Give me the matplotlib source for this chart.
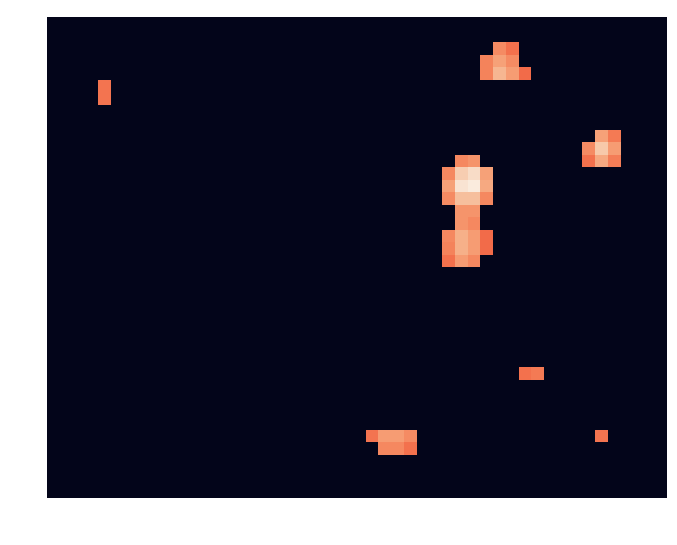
import numpy as np
import matplotlib
matplotlib.use('Agg')
import matplotlib.pyplot as plt
import seaborn as sns

# grid size of the 2d histogram (rows x cols), last row/col are cut off
n_rows = 39
n_cols = 49

# non-empty bins: row index, column index, normalised level
cell_rows = [5, 6,
             2, 2, 3, 3, 3, 4, 4, 4, 4,
             9, 9, 10, 10, 10, 11, 11, 11,
             11, 11, 12, 12, 12, 12, 13, 13, 13, 13, 14, 14, 14, 14,
             15, 15, 16, 16, 17, 17, 17, 17, 18, 18, 18, 18, 19, 19, 19,
             28, 28, 33,
             33, 33, 33, 33, 34, 34, 34]
cell_cols = [4, 4,
             35, 36, 34, 35, 36, 34, 35, 36, 37,
             43, 44, 42, 43, 44, 42, 43, 44,
             32, 33, 31, 32, 33, 34, 31, 32, 33, 34, 31, 32, 33, 34,
             32, 33, 32, 33, 31, 32, 33, 34, 31, 32, 33, 34, 31, 32, 33,
             37, 38, 43,
             25, 26, 27, 28, 26, 27, 28]
cell_vals = [0.71, 0.71,
             0.76, 0.70, 0.74, 0.81, 0.76, 0.74, 0.86, 0.80, 0.69,
             0.81, 0.72, 0.76, 0.91, 0.80, 0.70, 0.83, 0.73,
             0.75, 0.78, 0.75, 0.92, 0.96, 0.81, 0.81, 0.98, 1.00, 0.83,
             0.76, 0.885, 0.885, 0.75,
             0.78, 0.78, 0.78, 0.75, 0.75, 0.845, 0.80, 0.69,
             0.74, 0.845, 0.80, 0.69, 0.70, 0.80, 0.75,
             0.70, 0.72, 0.71,
             0.71, 0.80, 0.80, 0.76, 0.75, 0.75, 0.70]

grid = np.zeros((n_rows, n_cols))
for r, c, v in zip(cell_rows, cell_cols, cell_vals):
  grid[r, c] = v

fig = plt.figure(figsize=(6.77, 5.45), dpi=100)
ax = fig.add_axes([0.0694, 0.0868, 0.9158, 0.8815])
ax.pcolormesh(grid, cmap=sns.color_palette('rocket', as_cmap=True), vmin=0, vmax=1)
ax.set_xlim(0, 48.63)
ax.set_ylim(38.43, 0)
ax.set_xticks([])
ax.set_yticks([])
for s in ax.spines.values():
  s.set_visible(False)

fig.savefig('out.png', dpi=100)
